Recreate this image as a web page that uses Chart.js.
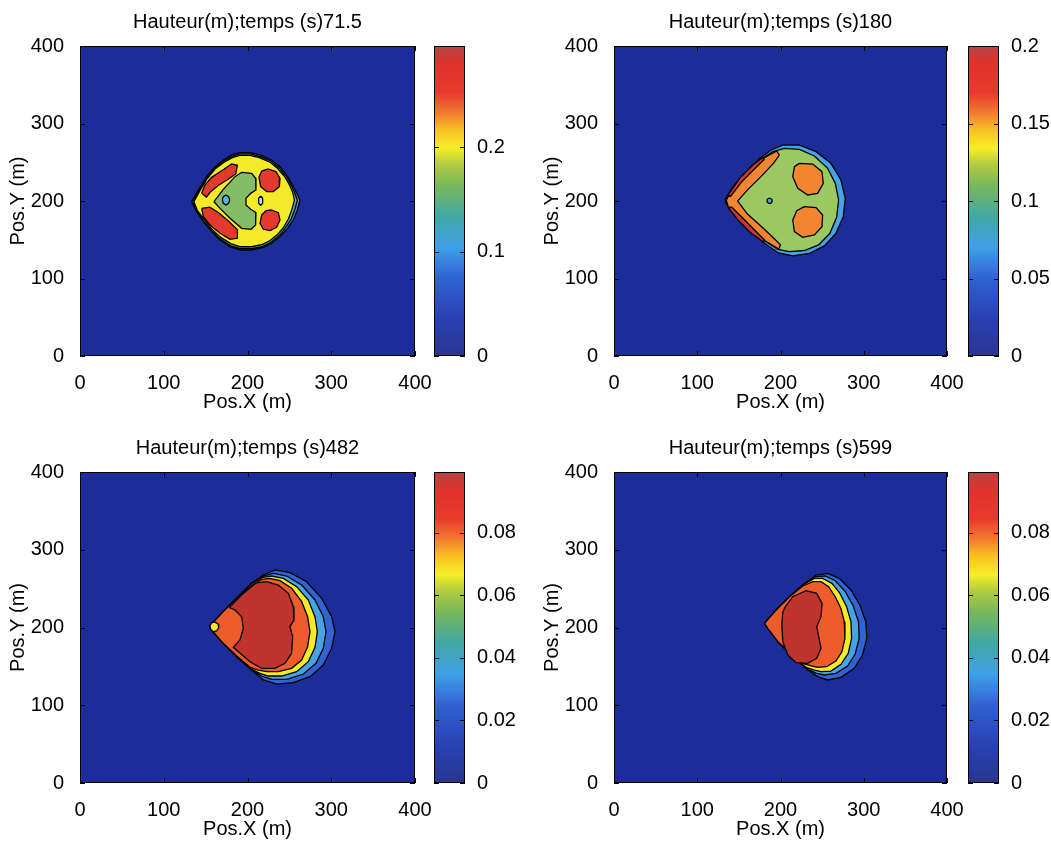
<!DOCTYPE html>
<html><head><meta charset="utf-8">
<script src="https://cdn.jsdelivr.net/npm/chart.js@4.4.1/dist/chart.umd.min.js"></script>
<style>
html,body{margin:0;padding:0;background:#fff;}
#wrap{position:relative;width:1051px;height:841px;overflow:hidden;background:#fff;}
canvas{position:absolute;}
</style></head><body><div id="wrap"></div>
<script>
// ---------- texts & ticks ----------
const titles = ['Hauteur(m);temps (s)71.5','Hauteur(m);temps (s)180','Hauteur(m);temps (s)482','Hauteur(m);temps (s)599'];
const xLabel = 'Pos.X (m)';
const yLabel = 'Pos.Y (m)';
const axisTicks = [0,100,200,300,400];
const cbMax = [0.297, 0.2, 0.0995, 0.0995];
const cbTicks1 = [0, 0.1, 0.2];
const cbTicks2 = [0, 0.05, 0.1, 0.15, 0.2];
const cbTicks3 = [0, 0.02, 0.04, 0.06, 0.08];
const cbTicks4 = [0, 0.02, 0.04, 0.06, 0.08];
const cbLabels1 = ['0','0.1','0.2'];
const cbLabels2 = ['0','0.05','0.1','0.15','0.2'];
const cbLabels3 = ['0','0.02','0.04','0.06','0.08'];
const cbLabels4 = ['0','0.02','0.04','0.06','0.08'];

// ---------- contour regions (data units, metres) ----------
// panel 1 : t = 71.5 s
const p1Rim = [[133.3,199.1],[141.3,214.2],[151.2,231.4],[161.2,244.3],[171.1,252.9],[181.1,259.4],[191.0,262.4],[203.0,262.4],[214.9,259.4],[228.9,252.9],[238.8,244.3],[246.8,233.5],[252.7,222.8],[257.9,212.0],[262.7,201.3],[259.5,188.4],[254.7,175.5],[246.8,163.5],[238.8,154.0],[228.9,145.4],[218.9,140.2],[205.0,136.8],[191.0,136.8],[179.1,141.1],[167.2,149.7],[157.2,160.5],[147.3,173.4],[138.5,187.5]];
const p1Mid = [[134.5,199],[142,213.5],[151.5,230],[161.5,243],[171.5,251.5],[181.5,257.7],[191,260.7],[203,260.7],[214.5,257.7],[228,251.5],[237.5,243],[245.5,233],[251.5,222],[256,211.5],[259.5,201],[256.5,189],[252,176.3],[244.5,164.3],[237.5,155],[228,146.7],[218.5,141.6],[205,138.4],[191,138.4],[179.5,142.5],[167.5,150.8],[157.5,161.3],[148,173.7],[139,187.7]];
const p1Yellow = [[136,199],[143,213],[152,229],[162,242],[172,250],[182,256],[191,259],[203,259],[214,256],[227,250],[236,242],[244,232],[250,221],[254,211],[256,201],[253,189],[249,177],[243,166],[236,157],[227,149],[218,144],[205,141],[191,141],[180,145],[168,153],[158,163],[149,175],[140,188]];
const p1RedUL = [[145.3,209.9],[149.2,220.7],[157.2,230.5],[169.2,239.1],[181.1,247.7],[187.9,246.0],[186.0,235.0],[176.0,227.5],[165.0,220.0],[156.0,212.0],[151.0,205.0]];
const p1RedLL = [[145.3,190.5],[155.0,192.0],[166.0,184.5],[177.5,174.0],[188.0,163.0],[187.9,151.9],[179.1,150.6],[167.2,158.3],[155.2,169.1],[147.3,179.8]];
const p1RedUR = [[224.9,241.3],[234.0,237.9],[238.8,229.3],[238.0,218.5],[230.8,212.1],[222.9,212.1],[215.7,218.5],[213.7,230.5],[216.9,238.7]];
const p1RedLR = [[228.9,188.4],[236.8,185.0],[238.8,175.5],[234.8,166.0],[226.9,161.7],[218.9,163.5],[214.9,171.2],[216.9,182.0],[222.1,187.5]];
const p1Green = [[160.0,199.1],[171.1,215.1],[185.1,231.4],[193.0,237.0],[205.0,235.7],[209.7,229.3],[210.1,214.2],[203.8,209.9],[198.2,203.5],[198.2,194.9],[203.8,189.3],[210.1,185.0],[209.7,169.1],[204.2,163.5],[193.0,164.7],[179.1,177.7],[167.2,190.5]];
const p1Spot = [[174.3,207.7],[177.5,205.6],[178.7,201.3],[177.5,197.0],[174.3,194.9],[171.1,197.0],[169.9,201.3],[171.1,205.6]];
const p1Slot = [[215.7,206.5],[218.1,203.5],[218.1,197.0],[215.7,194.4],[213.3,197.0],[213.3,203.5]];

// panel 2 : t = 180 s
const p2Outer = [[132.9,201.3],[142.9,218.5],[158.9,237.9],[174.8,255.0],[188.8,265.8],[202.8,272.2],[222.7,272.2],[242.7,263.7],[260.6,248.6],[272.6,227.1],[277.8,203.4],[275.4,179.8],[266.6,158.3],[252.6,142.0],[234.7,132.5],[214.7,129.1],[196.8,133.4],[180.8,145.4],[162.9,162.6],[146.9,179.8],[136.9,192.7]];
const p2Green = [[134.9,201.3],[144.9,218.5],[160.9,237.9],[176.8,253.8],[190.8,263.7],[204.7,268.0],[222.7,266.7],[240.7,258.1],[256.6,242.2],[265.8,222.8],[269.8,201.3],[267.4,178.9],[259.4,158.3],[245.8,143.3],[228.7,136.1],[210.7,134.7],[196.8,137.7],[180.8,148.9],[162.9,166.0],[146.9,182.0],[136.9,193.6]];
const p2OrangeV = [[195.6,264.5],[176.8,253.8],[160.9,237.9],[144.9,218.5],[134.9,201.3],[136.9,193.6],[146.9,182.0],[162.9,166.0],[180.8,148.9],[198.0,138.0],[200.0,143.5],[192.0,152.0],[177.0,167.0],[160.0,183.5],[148.5,200.0],[161.0,215.0],[176.5,231.5],[191.5,248.5],[198.5,259.0]];
const p2RedU = [[136.9,207.7],[150.9,229.2],[166.8,246.5],[178.8,256.3],[180.3,253.4],[168.3,241.0],[152.6,223.8],[140.0,206.0]];
const p2RedL = [[140.9,192.7],[154.9,177.7],[168.8,162.6],[180.8,149.7],[178.8,147.6],[164.8,158.3],[148.9,175.5],[138.1,190.5]];
const p2OrangeU = [[222.7,248.6],[238.7,247.7],[249.8,237.9],[251.4,222.8],[244.6,209.9],[232.7,207.8],[220.7,216.4],[214.7,231.4],[216.7,244.3]];
const p2OrangeD = [[228.7,192.7],[242.7,191.4],[250.6,181.9],[249.8,166.9],[240.7,156.2],[226.7,153.1],[216.7,160.5],[214.7,175.5],[219.5,187.5]];
const p2Dot = [[186.8,203.9],[189.6,202.2],[190.0,199.6],[188.4,197.0],[186.0,197.0],[184.0,198.7],[184.0,202.2]];

// panel 3 : t = 482 s
const p3Blue = [[154.4,201.1],[171.1,220.4],[189.1,239.6],[205.0,256.8],[218.9,267.5],[232.8,274.0],[250.7,270.5],[270.6,258.9],[288.6,237.5],[300.5,213.9],[304.5,194.6],[300.5,173.2],[290.5,151.8],[274.6,136.8],[254.7,129.0],[234.8,127.3],[218.9,132.5],[205.0,145.3],[187.1,162.5],[169.2,181.8],[157.2,196.8]];
const p3Cyan = [[154.4,201.1],[171.1,220.4],[189.1,239.6],[205.0,256.8],[218.9,266.2],[230.8,269.7],[246.8,266.2],[264.7,254.6],[280.6,235.4],[290.5,213.9],[293.7,194.6],[290.5,173.2],[281.8,153.9],[266.7,140.2],[246.8,133.3],[228.9,133.3],[216.9,137.6],[205.0,145.3],[187.1,162.5],[169.2,181.8],[157.2,196.8]];
const p3Yellow = [[154.4,201.1],[171.1,220.4],[189.1,239.6],[205.0,256.8],[218.1,264.5],[228.9,266.2],[242.8,263.2],[258.7,252.5],[272.6,235.4],[280.6,213.9],[283.4,194.6],[280.6,174.5],[272.6,156.0],[258.7,143.2],[240.8,137.6],[224.9,137.6],[214.9,141.0],[205.0,146.2],[187.1,162.5],[169.2,181.8],[157.2,196.8]];
const p3Orange = [[154.4,201.1],[171.1,220.4],[189.1,239.6],[205.0,254.6],[216.9,261.9],[226.9,263.2],[238.8,260.2],[252.7,250.4],[264.7,233.2],[271.8,213.9],[274.6,194.6],[271.8,175.3],[264.7,158.2],[252.7,147.5],[236.8,143.2],[222.9,143.2],[212.9,145.3],[203.0,148.8],[187.1,163.3],[169.2,181.8],[157.2,196.8]];
const p3DarkRed = [[178.3,225.5],[193.5,242.5],[210.5,257.5],[222.9,258.9],[236.8,254.6],[248.8,243.9],[254.7,226.8],[255.5,209.6],[250.7,201.1],[253.9,188.2],[252.7,166.8],[244.8,153.9],[232.8,147.5],[216.9,147.5],[203.0,156.0],[189.1,168.9],[183.1,174.5],[191.0,183.9],[195.0,198.9],[193.0,213.9],[185.1,222.5]];
const p3Tip = [[160.4,207.1],[164.8,204.5],[165.6,199.8],[163.2,195.5],[159.2,194.6],[156.0,197.6],[155.2,202.3],[157.2,205.8]];

// panel 4 : t = 599 s
const p4Blue = [[180.8,205.3],[194.8,222.5],[210.8,239.6],[226.7,254.6],[242.7,267.5],[256.6,269.7],[270.6,263.2],[284.6,248.2],[295.3,228.9],[302.5,207.5],[303.7,186.1],[298.5,164.6],[288.6,147.5],[272.6,135.9],[256.6,132.5],[244.7,136.8],[232.7,145.3],[214.7,162.5],[196.8,181.8],[184.8,198.9]];
const p4Cyan = [[180.8,205.3],[194.8,222.5],[210.8,239.6],[226.7,254.6],[241.9,265.4],[253.8,266.2],[265.8,260.2],[277.8,246.1],[287.4,227.6],[293.7,207.5],[294.5,186.1],[289.7,165.9],[280.6,150.5],[266.6,141.0],[252.6,138.9],[243.5,141.0],[232.7,146.2],[214.7,162.5],[196.8,181.8],[184.8,198.9]];
const p4Yellow = [[180.8,205.3],[194.8,222.5],[210.8,239.6],[226.7,254.6],[240.7,263.2],[250.7,263.2],[261.8,256.8],[271.4,243.9],[279.4,226.8],[284.6,207.5],[285.4,186.1],[281.4,166.8],[272.6,152.6],[260.6,144.0],[248.7,143.2],[240.7,145.3],[230.7,148.8],[214.7,163.3],[196.8,181.8],[184.8,198.9]];
const p4Orange = [[180.8,205.3],[194.8,222.5],[210.8,239.6],[226.7,253.4],[238.7,258.9],[248.7,258.9],[257.8,252.5],[265.8,239.6],[272.6,224.6],[276.6,207.5],[277.4,186.1],[273.8,168.9],[266.6,156.9],[255.4,149.6],[244.7,148.8],[236.7,150.5],[228.7,153.1],[214.7,164.6],[196.8,181.8],[184.8,198.9]];
const p4DarkRed = [[206.0,226.8],[214.7,239.6],[230.7,247.4],[243.5,243.9],[249.9,231.1],[248.7,213.9],[243.5,201.1],[245.9,188.2],[248.7,173.2],[243.5,160.3],[232.7,153.9],[218.7,154.8],[208.8,164.6],[202.8,181.8],[201.6,203.2],[202.8,220.0]];

// ---------- styles ----------
const FONT = '"Liberation Sans", Arial, Helvetica, sans-serif';
const FS = 20;
const BG = '#1c2c98';
const C = {
  mblue:'#3163d3', lblue:'#44a4e6', rim:'#3d8fe0', teal:'#63b48c',
  green1:'#84bd66', green2:'#9cc862', yellow:'#f5ea2a',
  orange2:'#f2852f', orange3:'#ee5c2b', red1:'#e43a2e', red2:'#c93a2e',
  dred:'#bf342c', spot:'#5ab2ea', slot:'#b6dbf0', dot:'#4aa8e4'
};
const cbStops = [[0,'#2a3590'],[0.12,'#2940b2'],[0.25,'#3062d2'],[0.35,'#3fa0e8'],[0.45,'#40a8a4'],[0.55,'#78b85a'],[0.62,'#b4cc40'],[0.67,'#f6ee28'],[0.73,'#f8c022'],[0.78,'#f28030'],[0.85,'#e83a2c'],[0.94,'#e0322c'],[1,'#b44442']];

const panels = [
  {layers:[[p1Rim,C.rim],[p1Mid,C.teal],[p1Yellow,C.yellow],[p1RedUL,C.red1],[p1RedLL,C.red1],[p1RedUR,C.red1],[p1RedLR,C.red1],[p1Green,C.green1],[p1Spot,C.spot],[p1Slot,C.slot]],
   ticks:cbTicks1, labels:cbLabels1},
  {layers:[[p2Outer,C.lblue],[p2Green,C.green2],[p2OrangeV,C.orange2],[p2RedU,C.red2],[p2RedL,C.red2],[p2OrangeU,C.orange2],[p2OrangeD,C.orange2],[p2Dot,C.dot]],
   ticks:cbTicks2, labels:cbLabels2},
  {layers:[[p3Blue,C.mblue],[p3Cyan,C.lblue],[p3Yellow,C.yellow],[p3Orange,C.orange3],[p3DarkRed,C.dred],[p3Tip,C.yellow]],
   ticks:cbTicks3, labels:cbLabels3},
  {layers:[[p4Blue,C.mblue],[p4Cyan,C.lblue],[p4Yellow,C.yellow],[p4Orange,C.orange3],[p4DarkRed,C.dred]],
   ticks:cbTicks4, labels:cbLabels4}
];

// page layout (pixels)
const boxes = [
  {left:0,   top:0,   w:440, h:426, plotL:80,  plotR:415, plotT:46,  plotB:356, cbL:434, cbR:465, xPad:12},
  {left:534, top:0,   w:440, h:426, plotL:614, plotR:947, plotT:46,  plotB:356, cbL:968, cbR:999, xPad:12},
  {left:0,   top:426, w:440, h:415, plotL:80,  plotR:415, plotT:472, plotB:783, cbL:434, cbR:465, xPad:0},
  {left:534, top:426, w:440, h:415, plotL:614, plotR:947, plotT:472, plotB:783, cbL:968, cbR:999, xPad:0}
];

// ---------- plugins ----------
const bgPlugin = {id:'plotBg', beforeDatasetsDraw(chart){
  const a = chart.chartArea, ctx = chart.ctx;
  ctx.save(); ctx.fillStyle = BG; ctx.fillRect(a.left, a.top, a.right-a.left, a.bottom-a.top); ctx.restore();
}};
const framePlugin = {id:'frame', afterDatasetsDraw(chart){
  const a = chart.chartArea, ctx = chart.ctx;
  ctx.save(); ctx.strokeStyle = '#000'; ctx.lineWidth = 1;
  ctx.strokeRect(Math.round(a.left)+0.5, Math.round(a.top)+0.5, Math.round(a.right-a.left)-1, Math.round(a.bottom-a.top)-1);
  const L = 5;
  ctx.beginPath();
  const xs = chart.scales.x, ys = chart.scales.y;
  if (xs && xs.options.display !== false) xs.ticks.forEach(t=>{const p=Math.round(xs.getPixelForValue(t.value))+0.5; ctx.moveTo(p,a.bottom); ctx.lineTo(p,a.bottom-L); ctx.moveTo(p,a.top); ctx.lineTo(p,a.top+L);});
  ys.ticks.forEach(t=>{const p=Math.round(ys.getPixelForValue(t.value))+0.5; ctx.moveTo(a.left,p); ctx.lineTo(a.left+L,p); ctx.moveTo(a.right,p); ctx.lineTo(a.right-L,p);});
  ctx.stroke(); ctx.restore();
}};

function poly(pts){ const d = pts.map(p=>({x:p[0], y:p[1]})); d.push({x:pts[0][0], y:pts[0][1]}); return d; }
function mkCanvas(l,t,w,h){ const c=document.createElement('canvas'); c.width=w; c.height=h; c.style.left=l+'px'; c.style.top=t+'px'; c.style.width=w+'px'; c.style.height=h+'px'; document.getElementById('wrap').appendChild(c); return c; }

const LH = FS*1.2;
panels.forEach((pn, i) => {
  const b = boxes[i];
  const datasets = pn.layers.map(([pts,col]) => ({
    data: poly(pts), backgroundColor: col, borderColor:'#000', borderWidth:1.3,
    fill:'shape', pointRadius:0, pointHoverRadius:0, tension:0
  })).reverse();
  const cv = mkCanvas(b.left, b.top, b.w, b.h);
  new Chart(cv, {
    type:'line',
    data:{datasets},
    options:{
      responsive:false, animation:false, devicePixelRatio:1, events:[],
      layout:{padding:{left:0, right:b.w-(b.plotR-b.left), top:0, bottom:0}},
      plugins:{
        legend:{display:false}, tooltip:{enabled:false},
        title:{display:true, fullSize:false, text:titles[i], color:'#000', font:{family:FONT, size:FS, weight:'normal', lineHeight:1.2},
               padding:{top:10, bottom:(b.plotT-b.top)-10-LH}}
      },
      scales:{
        x:{type:'linear', min:0, max:400,
           afterBuildTicks:s=>{s.ticks = axisTicks.map(v=>({value:v}));},
           afterFit:s=>{s.height = (b.top+b.h) - b.plotB;},
           grid:{display:false}, border:{display:false},
           ticks:{color:'#000', font:{family:FONT, size:FS}, padding:7, maxRotation:0, autoSkip:false},
           title:{display:true, text:xLabel, color:'#000', font:{family:FONT, size:FS, lineHeight:1.2}, padding:{top:0, bottom:b.xPad}}},
        y:{type:'linear', min:0, max:400,
           afterBuildTicks:s=>{s.ticks = axisTicks.map(v=>({value:v}));},
           afterFit:s=>{s.width = b.plotL - b.left;},
           grid:{display:false}, border:{display:false},
           ticks:{color:'#000', font:{family:FONT, size:FS}, padding:8, autoSkip:false},
           title:{display:true, text:yLabel, color:'#000', font:{family:FONT, size:FS, lineHeight:1.2}, padding:{top:6, bottom:0}}}
      }
    },
    plugins:[bgPlugin, framePlugin]
  });

  // colour bar
  const cl = b.cbL - 10, cw = 112;
  const cc = mkCanvas(cl, b.top, cw, b.h);
  new Chart(cc, {
    type:'bar',
    data:{labels:['h'], datasets:[{
      data:[[0, cbMax[i]]],
      backgroundColor:(ctx)=>{ const ch=ctx.chart, a=ch.chartArea; if(!a) return cbStops[0][1];
        const g=ch.ctx.createLinearGradient(0,a.bottom,0,a.top); cbStops.forEach(s=>g.addColorStop(s[0],s[1])); return g; },
      borderColor:'#000', borderWidth:1, borderSkipped:false, barPercentage:1, categoryPercentage:1
    }]},
    options:{
      responsive:false, animation:false, devicePixelRatio:1, events:[],
      layout:{padding:{left:10, right:0, top:b.plotT-b.top, bottom:(b.top+b.h)-b.plotB}},
      plugins:{legend:{display:false}, tooltip:{enabled:false}},
      scales:{
        x:{display:false},
        y:{position:'right', min:0, max:cbMax[i],
           afterBuildTicks:s=>{s.ticks = pn.ticks.map(v=>({value:v}));},
           afterFit:s=>{s.width = cw - 10 - (b.cbR - b.cbL);},
           grid:{display:false}, border:{display:false},
           ticks:{color:'#000', font:{family:FONT, size:FS}, padding:4, autoSkip:false,
                  callback:(v)=>{ const k = pn.ticks.indexOf(v); return k>=0 ? pn.labels[k] : ''; }}}
      }
    },
    plugins:[framePlugin]
  });
});
</script></body></html>
